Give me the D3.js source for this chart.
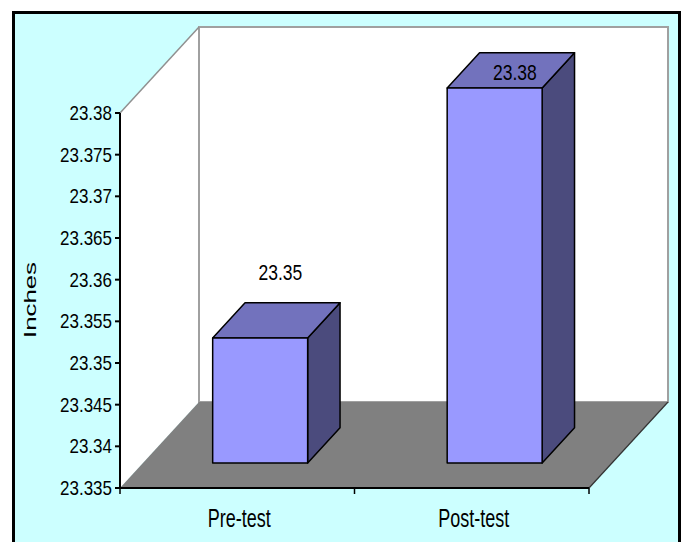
<!DOCTYPE html>
<html>
<head>
<meta charset="utf-8">
<script src="https://cdn.jsdelivr.net/npm/d3@7"></script>
<style>
  body { margin: 0; background: #fff; }
  svg { display: block; font-family: Arial, "Liberation Sans", sans-serif; }
</style>
</head>
<body>
<div id="chart"></div>
<script>
// data
var categories = ["Pre-test", "Post-test"];
var values = [23.35, 23.38];
var yTicks = [23.335, 23.34, 23.345, 23.35, 23.355, 23.36, 23.365, 23.37, 23.375, 23.38];
var yTitle = "Inches";

var width = 685, height = 542;

// 3d plot box: front face and depth vector
var plotLeft = 120, plotRight = 589, plotBottom = 488, plotTop = 113;
var depthX = 79, depthY = -86;
var barFront = 0.29, barBack = 0.70;   // bar position inside the depth
var barFrac = 0.405;                   // bar width as part of the band
var labelMinY = 72;

var svg = d3.select("#chart").append("svg")
  .attr("width", width)
  .attr("height", height);

//chart area
svg.append("rect")
  .attr("width", width).attr("height", height)
  .style("fill", "#fff");
svg.append("rect")
  .attr("x", 13.5).attr("y", 12.5)
  .attr("width", 666).attr("height", 580)
  .style("fill", "#ccffff")
  .style("stroke", "#000")
  .style("stroke-width", 3);

var y = d3.scaleLinear()
  .domain([yTicks[0], yTicks[yTicks.length - 1]])
  .range([plotBottom, plotTop]);

var x = d3.scaleBand()
  .domain(categories)
  .range([plotLeft, plotRight])
  .padding(0);

// point at depth fraction d
function pt(px, py, d) {
  return [px + depthX * d, py + depthY * d];
}
var line = d3.line();

//walls
svg.append("path") // side wall
  .attr("d", line([pt(plotLeft, plotTop, 0), pt(plotLeft, plotTop, 1), pt(plotLeft, plotBottom, 1), pt(plotLeft, plotBottom, 0)]) + "Z")
  .style("fill", "#fff");
svg.append("path") // back wall
  .attr("d", line([pt(plotLeft, plotTop, 1), pt(plotRight, plotTop, 1), pt(plotRight, plotBottom, 1), pt(plotLeft, plotBottom, 1)]) + "Z")
  .style("fill", "#fff")
  .style("stroke", "#a0a0a0")
  .style("stroke-width", 2);
svg.append("path")
  .attr("d", line([pt(plotLeft, plotTop, 0), pt(plotLeft, plotTop, 1)]))
  .style("stroke", "#909090")
  .style("stroke-width", 1.5);

//floor
svg.append("path")
  .attr("d", line([pt(plotLeft, plotBottom, 0), pt(plotLeft, plotBottom, 1), pt(plotRight, plotBottom, 1), pt(plotRight, plotBottom, 0)]) + "Z")
  .style("fill", "#808080");
svg.append("path")
  .attr("d", line([pt(plotRight, plotBottom, 0), pt(plotRight, plotBottom, 1)]))
  .style("stroke", "#333")
  .style("stroke-width", 1.2);

//bars
var bars = svg.selectAll(".bar")
  .data(categories)
  .enter()
  .append("g")
  .attr("class", "bar");

bars.each(function(c, i) {
  var g = d3.select(this);
  var bw = x.bandwidth() * barFrac;
  var x0 = x(c) + (x.bandwidth() - bw) / 2, x1 = x0 + bw;
  var yv = y(values[i]);
  var f = barFront, b = barBack;

  var front = [pt(x0, yv, f), pt(x1, yv, f), pt(x1, plotBottom, f), pt(x0, plotBottom, f)];
  var topFace = [pt(x0, yv, f), pt(x0, yv, b), pt(x1, yv, b), pt(x1, yv, f)];
  var side = [pt(x1, yv, f), pt(x1, yv, b), pt(x1, plotBottom, b), pt(x1, plotBottom, f)];

  g.append("path").attr("d", line(side) + "Z")
    .style("fill", "#4b4b7d").style("stroke", "#000").style("stroke-width", 1.5)
    .style("stroke-linejoin", "round");
  g.append("path").attr("d", line(topFace) + "Z")
    .style("fill", "#7272bd").style("stroke", "#000").style("stroke-width", 1.5)
    .style("stroke-linejoin", "round");
  g.append("path").attr("d", line(front) + "Z")
    .style("fill", "#9999ff").style("stroke", "#000").style("stroke-width", 1.5)
    .style("stroke-linejoin", "round");

  // value label
  var cx = x0 + bw / 2 + depthX * (f + b) / 2 + 4;
  var ly = Math.max(pt(x0, yv, b)[1] - 30, labelMinY);
  g.append("text")
    .attr("transform", "translate(" + cx + "," + ly + ") scale(1,1.25)")
    .attr("text-anchor", "middle")
    .attr("dy", "0.35em")
    .style("font-size", "17.5px")
    .style("fill", "#000")
    .text(values[i]);
});

//axes
var yAxis = svg.append("g");
yAxis.append("line")
  .attr("x1", plotLeft).attr("x2", plotLeft)
  .attr("y1", plotTop).attr("y2", plotBottom)
  .style("stroke", "#000").style("stroke-width", 2);
yAxis.selectAll(".ytick")
  .data(yTicks)
  .enter()
  .append("line")
  .attr("x1", plotLeft - 5).attr("x2", plotLeft)
  .attr("y1", function(d) { return y(d); })
  .attr("y2", function(d) { return y(d); })
  .style("stroke", "#000").style("stroke-width", 2);
yAxis.selectAll(".ylabel")
  .data(yTicks)
  .enter()
  .append("text")
  .attr("transform", function(d) { return "translate(" + (plotLeft - 8) + "," + y(d) + ") scale(1,1.2)"; })
  .attr("text-anchor", "end")
  .attr("dy", "0.35em")
  .style("font-size", "17px")
  .text(function(d) { return d; });

var xAxis = svg.append("g");
xAxis.append("line")
  .attr("x1", plotLeft).attr("x2", plotRight)
  .attr("y1", plotBottom).attr("y2", plotBottom)
  .style("stroke", "#000").style("stroke-width", 2);
var bounds = [plotLeft].concat(categories.map(function(c) { return x(c) + x.bandwidth(); }));
xAxis.selectAll(".xtick")
  .data(bounds)
  .enter()
  .append("line")
  .attr("x1", function(d) { return d; }).attr("x2", function(d) { return d; })
  .attr("y1", plotBottom).attr("y2", plotBottom + 6)
  .style("stroke", "#000").style("stroke-width", 1.5);
xAxis.selectAll(".xlabel")
  .data(categories)
  .enter()
  .append("text")
  .attr("transform", function(c) { return "translate(" + (x(c) + x.bandwidth() / 2 + 2) + ",518) scale(1,1.4)"; })
  .attr("text-anchor", "middle")
  .attr("dy", "0.35em")
  .style("font-size", "18px")
  .text(function(c) { return c; });

//axis title
svg.append("text")
  .attr("transform", "translate(30,300) rotate(-90)")
  .attr("text-anchor", "middle")
  .attr("dy", "0.35em")
  .attr("textLength", 76)
  .attr("lengthAdjust", "spacingAndGlyphs")
  .style("font-size", "17px")
  .text(yTitle);
</script>
</body>
</html>
